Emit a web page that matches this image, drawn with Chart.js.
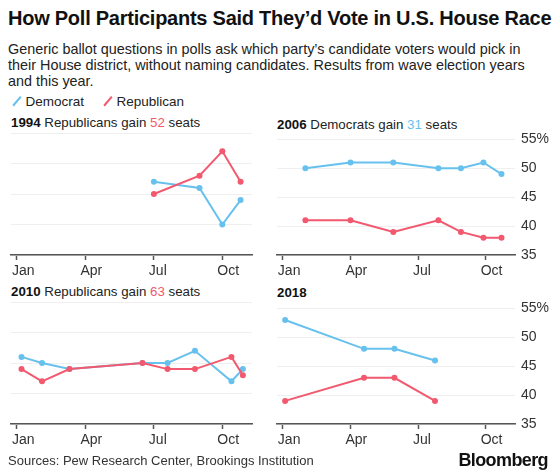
<!DOCTYPE html>
<html>
<head>
<meta charset="utf-8">
<script src="https://cdn.jsdelivr.net/npm/chart.js@4"></script>
<style>
  body { margin: 0; background: #fff; font-family: "Liberation Sans", Arial, sans-serif; color: #111; }
  #page { position: relative; width: 560px; height: 475px; overflow: hidden; }
  .abs { position: absolute; white-space: nowrap; }
  #title { left: 8px; top: 7px; font-size: 20px; font-weight: bold; letter-spacing: -0.25px; }
  #subtitle { left: 8px; top: 41px; font-size: 14.4px; line-height: 16px; color: #222; }
  .legend { top: 94px; font-size: 13.5px; color: #222; }
  .swatch { display: inline-block; width: 1.5px; height: 12px; transform: rotate(40deg); margin-right: 8px; vertical-align: -1px; }
  .panelTitle { font-size: 13.3px; color: #222; }
  .panelTitle b { color: #111; }
  canvas { position: absolute; }
  #source { left: 8px; top: 453px; font-size: 13px; color: #333; }
  #logo { right: 12px; top: 450px; font-size: 18px; font-weight: bold; letter-spacing: -0.6px; }
</style>
</head>
<body>
<div id="page">
  <div id="title" class="abs">How Poll Participants Said They’d Vote in U.S. House Race</div>
  <div id="subtitle" class="abs">Generic ballot questions in polls ask which party’s candidate voters would pick in<br>their House district, without naming candidates. Results from wave election years<br>and this year.</div>

  <div class="abs legend" style="left:16px"><span class="swatch" style="background:#67c1ee"></span>Democrat</div>
  <div class="abs legend" style="left:107px"><span class="swatch" style="background:#f2596f"></span>Republican</div>

  <div class="abs panelTitle" style="left:11px;top:115px"><b>1994</b> Republicans gain <span style="color:#f2596f">52</span> seats</div>
  <div class="abs panelTitle" style="left:277px;top:117px"><b>2006</b> Democrats gain <span style="color:#67c1ee">31</span> seats</div>
  <div class="abs panelTitle" style="left:11px;top:284px"><b>2010</b> Republicans gain <span style="color:#f2596f">63</span> seats</div>
  <div class="abs panelTitle" style="left:277px;top:285px"><b>2018</b></div>

  <canvas id="c1994" width="262" height="160" style="left:0px;top:125px"></canvas>
  <canvas id="c2006" width="294" height="160" style="left:266px;top:125px"></canvas>
  <canvas id="c2010" width="262" height="160" style="left:0px;top:294px"></canvas>
  <canvas id="c2018" width="294" height="160" style="left:266px;top:294px"></canvas>

  <div id="source" class="abs">Sources: Pew Research Center, Brookings Institution</div>
  <div id="logo" class="abs">Bloomberg</div>
</div>

<script>
// mesi come numero (0 = gennaio)
let monthTicks = [0, 3, 6, 9];
let monthLabels = ['Jan', 'Apr', 'Jul', 'Oct'];
let yTicks = [35, 40, 45, 50, 55];

let months1994 = [6, 8, 9, 9.8];
let dem1994 = [47, 46, 40, 44];
let rep1994 = [45, 48, 52, 47];

let months2006 = [1, 3, 4.9, 6.9, 7.9, 8.9, 9.7];
let dem2006 = [50, 51, 51, 50, 50, 51, 49];
let rep2006 = [41, 41, 39, 41, 39, 38, 38];

let months2010 = [0.2, 1.1, 2.3, 5.5, 6.6, 7.8, 9.4, 9.9];
let dem2010 = [46, 45, 44, 45, 45, 47, 42, 44];
let rep2010 = [44, 42, 44, 45, 44, 44, 46, 43];

let months2018 = [0.1, 3.6, 4.95, 6.75];
let dem2018 = [53, 48, 48, 46];
let rep2018 = [39, 43, 43, 39];

let demColor = '#67c1ee';
let repColor = '#f2596f';

function toPoints(xs, ys) {
  return xs.map((x, i) => ({ x: x, y: ys[i] }));
}

function series(label, xs, ys, color) {
  return {
    label: label,
    data: toPoints(xs, ys),
    borderColor: color,
    backgroundColor: color,
    borderWidth: 2,
    pointRadius: 3,
    pointBorderWidth: 0,
    tension: 0,
    clip: false
  };
}

function makePanel(id, xs, dem, rep, showY) {
  new Chart(id, {
    type: 'line',
    data: {
      // repubblicani per primi, cosi' stanno sopra
      datasets: [
        series('Republican', xs, rep, repColor),
        series('Democrat', xs, dem, demColor)
      ]
    },
    options: {
      responsive: false,
      animation: false,
      devicePixelRatio: 1,
      events: [],
      layout: { padding: { left: 11, right: showY ? 0 : 10, top: 8, bottom: 0 } },
      plugins: { legend: { display: false }, tooltip: { enabled: false } },
      scales: {
        x: {
          type: 'linear',
          min: -0.26,
          max: 10.3,
          afterBuildTicks: s => { s.ticks = monthTicks.map(v => ({ value: v })); },
          afterFit: s => { s.height = 30; },
          grid: { drawOnChartArea: false, drawTicks: true, tickLength: 5, tickColor: '#555', tickWidth: 1.5 },
          border: { color: '#555', width: 1.5 },
          ticks: {
            align: 'start',
            labelOffset: -5,
            padding: 3,
            color: '#333',
            font: { family: 'Liberation Sans', size: 14 },
            callback: v => monthLabels[monthTicks.indexOf(v)]
          }
        },
        y: {
          position: 'right',
          min: 35,
          max: 55,
          afterBuildTicks: s => { s.ticks = yTicks.map(v => ({ value: v })); },
          afterFit: s => { s.width = showY ? 45 : 0; },
          grid: { color: '#efefef', lineWidth: 1, drawTicks: false },
          border: { display: false },
          ticks: {
            display: showY,
            padding: 6,
            color: '#333',
            font: { family: 'Liberation Sans', size: 14 },
            callback: v => v === 55 ? '55%' : v
          }
        }
      }
    }
  });
}

makePanel('c1994', months1994, dem1994, rep1994, false);
makePanel('c2006', months2006, dem2006, rep2006, true);
makePanel('c2010', months2010, dem2010, rep2010, false);
makePanel('c2018', months2018, dem2018, rep2018, true);
</script>
</body>
</html>
